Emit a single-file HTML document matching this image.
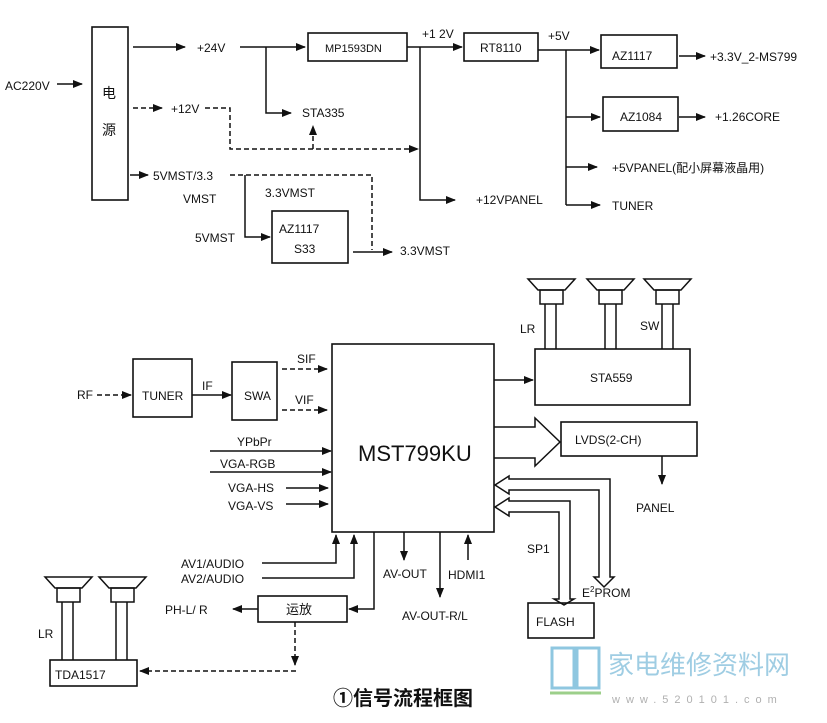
<!DOCTYPE html>
<html><head><meta charset="utf-8"><style>
body{margin:0;background:#fff}
svg{display:block}
text{font-family:"Liberation Sans","Noto Sans CJK SC",sans-serif;font-size:12px;fill:#111}
.b{fill:none;stroke:#111;stroke-width:1.6}
.l{stroke:#111;stroke-width:1.5;fill:none}
.d{stroke:#111;stroke-width:1.5;fill:none;stroke-dasharray:5,3}
</style></head><body>
<svg width="827" height="723" viewBox="0 0 827 723" xmlns="http://www.w3.org/2000/svg">
<defs>
<marker id="a" markerWidth="10" markerHeight="8" refX="9" refY="4" orient="auto" markerUnits="userSpaceOnUse"><path d="M0,0 L10,4 L0,8 Z" fill="#111"/></marker>
</defs>
<!-- TOP -->
<rect class="b" x="92" y="27" width="36" height="173"/>
<text x="102" y="98" style="font-size:14px">电</text>
<text x="102" y="135" style="font-size:14px">源</text>
<text x="5" y="90">AC220V</text>
<line class="l" x1="57" y1="84" x2="82" y2="84" marker-end="url(#a)"/>
<line class="l" x1="133" y1="47" x2="185" y2="47" marker-end="url(#a)"/>
<text x="197" y="52">+24V</text>
<line class="l" x1="240" y1="47" x2="305" y2="47" marker-end="url(#a)"/>
<rect class="b" x="308" y="33" width="99" height="28"/>
<text x="325" y="52" style="font-size:11px">MP1593DN</text>
<polyline class="l" points="266,47 266,113 291,113" marker-end="url(#a)"/>
<text x="302" y="117">STA335</text>
<line class="d" x1="133" y1="108" x2="162" y2="108" marker-end="url(#a)"/>
<text x="171" y="113">+12V</text>
<polyline class="d" points="205,108 230,108 230,149 418,149" marker-end="url(#a)"/>
<line class="d" x1="313" y1="149" x2="313" y2="126" marker-end="url(#a)"/>
<line class="l" x1="407" y1="47" x2="462" y2="47" marker-end="url(#a)"/>
<text x="422" y="38">+1 2V</text>
<polyline class="l" points="420,47 420,200 455,200" marker-end="url(#a)"/>
<text x="476" y="204">+12VPANEL</text>
<rect class="b" x="464" y="33" width="74" height="28"/>
<text x="480" y="52">RT8110</text>
<text x="548" y="40">+5V</text>
<line class="l" x1="538" y1="50" x2="599" y2="50" marker-end="url(#a)"/>
<rect class="b" x="601" y="35" width="76" height="33"/>
<text x="612" y="60">AZ1117</text>
<line class="l" x1="566" y1="50" x2="566" y2="205"/>
<line class="l" x1="566" y1="117" x2="600" y2="117" marker-end="url(#a)"/>
<rect class="b" x="603" y="97" width="75" height="34"/>
<text x="620" y="121">AZ1084</text>
<line class="l" x1="566" y1="167" x2="597" y2="167" marker-end="url(#a)"/>
<text x="612" y="172">+5VPANEL(配小屏幕液晶用)</text>
<line class="l" x1="566" y1="205" x2="600" y2="205" marker-end="url(#a)"/>
<text x="612" y="210">TUNER</text>
<line class="l" x1="679" y1="56" x2="705" y2="56" marker-end="url(#a)"/>
<text x="710" y="61">+3.3V_2-MS799</text>
<line class="l" x1="679" y1="117" x2="705" y2="117" marker-end="url(#a)"/>
<text x="715" y="121">+1.26CORE</text>
<line class="l" x1="130" y1="175" x2="148" y2="175" marker-end="url(#a)"/>
<text x="153" y="180">5VMST/3.3</text>
<text x="183" y="203">VMST</text>
<polyline class="d" points="230,175 372,175 372,250"/>
<polyline class="l" points="245,175 245,237 270,237" marker-end="url(#a)"/>
<rect class="b" x="272" y="211" width="76" height="52"/>
<text x="279" y="233">AZ1117</text>
<text x="294" y="253">S33</text>
<text x="265" y="197">3.3VMST</text>
<text x="195" y="242">5VMST</text>
<line class="l" x1="353" y1="252" x2="392" y2="252" marker-end="url(#a)"/>
<text x="400" y="255">3.3VMST</text>
<!-- BOTTOM -->
<rect class="b" x="332" y="344" width="162" height="188"/>
<text x="358" y="461" style="font-size:22px">MST799KU</text>
<text x="77" y="399">RF</text>
<line class="d" x1="97" y1="395" x2="131" y2="395" marker-end="url(#a)"/>
<rect class="b" x="133" y="359" width="59" height="58"/>
<text x="142" y="400">TUNER</text>
<line class="l" x1="192" y1="395" x2="231" y2="395" marker-end="url(#a)"/>
<text x="202" y="390">IF</text>
<rect class="b" x="232" y="362" width="45" height="58"/>
<text x="244" y="400">SWA</text>
<line class="d" x1="282" y1="369" x2="327" y2="369" marker-end="url(#a)"/>
<text x="297" y="363">SIF</text>
<line class="d" x1="282" y1="410" x2="327" y2="410" marker-end="url(#a)"/>
<text x="295" y="404">VIF</text>
<line class="l" x1="210" y1="451" x2="331" y2="451" marker-end="url(#a)"/>
<text x="237" y="446">YPbPr</text>
<line class="l" x1="210" y1="472" x2="331" y2="472" marker-end="url(#a)"/>
<text x="220" y="468">VGA-RGB</text>
<text x="228" y="492">VGA-HS</text>
<line class="l" x1="286" y1="488" x2="328" y2="488" marker-end="url(#a)"/>
<text x="228" y="510">VGA-VS</text>
<line class="l" x1="286" y1="504" x2="328" y2="504" marker-end="url(#a)"/>
<text x="181" y="568">AV1/AUDIO</text>
<polyline class="l" points="262,563 336,563 336,535" marker-end="url(#a)"/>
<text x="181" y="583">AV2/AUDIO</text>
<polyline class="l" points="262,578 354,578 354,535" marker-end="url(#a)"/>
<polyline class="l" points="374,532 374,609 349,609" marker-end="url(#a)"/>
<rect class="b" x="258" y="596" width="89" height="26"/>
<text x="286" y="614" style="font-size:13px">运放</text>
<line class="l" x1="258" y1="609" x2="233" y2="609" marker-end="url(#a)"/>
<text x="165" y="614">PH-L/ R</text>
<line class="d" x1="295" y1="622" x2="295" y2="665" marker-end="url(#a)"/>
<line class="d" x1="296" y1="671" x2="140" y2="671" marker-end="url(#a)"/>
<rect class="b" x="50" y="660" width="87" height="26"/>
<text x="55" y="679">TDA1517</text>
<text x="38" y="638">LR</text>
<g class="l">
<path d="M45,577 L92,577 L82,588 L55,588 Z"/><rect x="57" y="588" width="23" height="14"/><line x1="62" y1="602" x2="62" y2="660"/><line x1="73" y1="602" x2="73" y2="660"/>
<path d="M99,577 L146,577 L136,588 L109,588 Z"/><rect x="111" y="588" width="23" height="14"/><line x1="116" y1="602" x2="116" y2="660"/><line x1="127" y1="602" x2="127" y2="660"/>
</g>
<line class="l" x1="404" y1="532" x2="404" y2="560" marker-end="url(#a)"/>
<text x="383" y="578">AV-OUT</text>
<line class="l" x1="440" y1="532" x2="440" y2="597" marker-end="url(#a)"/>
<text x="402" y="620">AV-OUT-R/L</text>
<line class="l" x1="468" y1="560" x2="468" y2="535" marker-end="url(#a)"/>
<text x="448" y="579">HDMI1</text>
<rect class="b" x="535" y="349" width="155" height="56"/>
<text x="590" y="382">STA559</text>
<line class="l" x1="494" y1="380" x2="533" y2="380" marker-end="url(#a)"/>
<text x="520" y="333">LR</text>
<text x="640" y="330">SW</text>
<g class="l">
<path d="M528,279 L575,279 L565,290 L538,290 Z"/><rect x="540" y="290" width="23" height="14"/><line x1="545" y1="304" x2="545" y2="349"/><line x1="556" y1="304" x2="556" y2="349"/>
<path d="M587,279 L634,279 L624,290 L597,290 Z"/><rect x="599" y="290" width="23" height="14"/><line x1="605" y1="304" x2="605" y2="349"/><line x1="616" y1="304" x2="616" y2="349"/>
<path d="M644,279 L691,279 L681,290 L654,290 Z"/><rect x="656" y="290" width="23" height="14"/><line x1="662" y1="304" x2="662" y2="349"/><line x1="673" y1="304" x2="673" y2="349"/>
</g>
<path class="l" d="M494,427 L535,427 L535,418 L560,442 L535,466 L535,458 L494,458"/>
<rect class="b" x="561" y="422" width="136" height="34"/>
<text x="575" y="444">LVDS(2-CH)</text>
<line class="l" x1="662" y1="456" x2="662" y2="484" marker-end="url(#a)"/>
<text x="636" y="512">PANEL</text>
<!-- buses -->
<path class="l" d="M610,480 L610,479 L509,479 L509,476 L495,485 L509,494 L509,490 L599,490 L599,577 L594,577 L604,587 L614,577 L610,577 Z"/>
<path class="l" d="M570,501 L509,501 L509,498 L495,507 L509,516 L509,512 L559,512 L559,599 L554,599 L564,605 L574,599 L570,599 Z"/>
<text x="527" y="553">SP1</text>
<text x="582" y="597">E<tspan style="font-size:8px" dy="-5">2</tspan><tspan dy="5">PROM</tspan></text>
<rect class="b" x="528" y="603" width="66" height="35"/>
<text x="536" y="626">FLASH</text>
<text x="333" y="705" style="font-size:20px;font-weight:bold">①信号流程框图</text>
<!-- logo -->
<g stroke="#8fc7e0" stroke-width="3" fill="none"><rect x="552" y="648" width="22" height="40"/><rect x="577" y="648" width="22" height="40"/></g>
<line x1="550" y1="693" x2="601" y2="693" stroke="#9ccf8a" stroke-width="3"/>
<text x="608" y="674" style="font-size:26px;fill:#9fcde3">家电维修资料网</text>
<text x="612" y="703" style="font-size:11px;fill:#b0b0b0;letter-spacing:6px">www.520101.com</text>
</svg>
</body></html>
